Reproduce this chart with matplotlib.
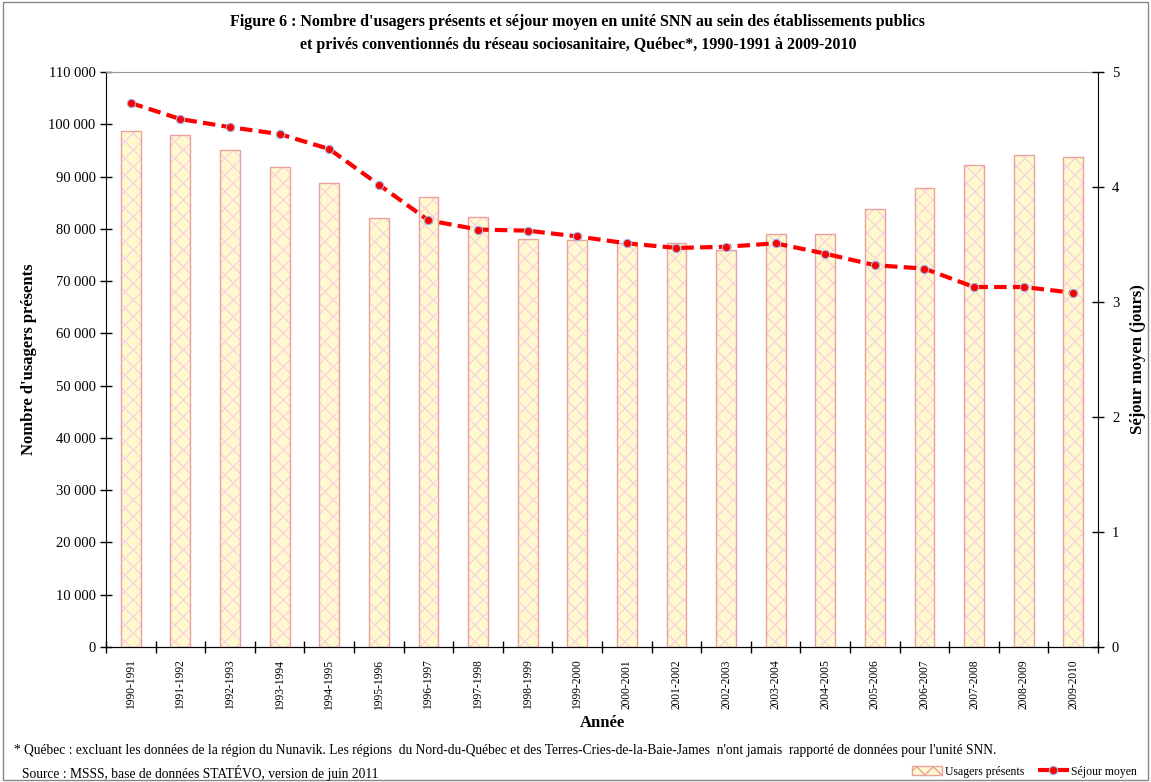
import matplotlib
matplotlib.use("Agg")
import matplotlib.pyplot as plt
import numpy as np
from matplotlib.patches import Rectangle, Patch
from matplotlib.lines import Line2D
from matplotlib.ticker import FuncFormatter

plt.rcParams["font.family"] = ["Liberation Serif", "DejaVu Serif"]

annees = [
    "1990-1991", "1991-1992", "1992-1993", "1993-1994", "1994-1995",
    "1995-1996", "1996-1997", "1997-1998", "1998-1999", "1999-2000",
    "2000-2001", "2001-2002", "2002-2003", "2003-2004", "2004-2005",
    "2005-2006", "2006-2007", "2007-2008", "2008-2009", "2009-2010",
]
usagers = [
    98700, 97900, 95100, 91800, 88800, 82100, 86000, 82300, 78100, 77900,
    77300, 77300, 76000, 79000, 79000, 83700, 87800, 92200, 94100, 93800,
]
sejour = [
    4.73, 4.59, 4.52, 4.46, 4.33, 4.02, 3.71, 3.63, 3.62, 3.57,
    3.51, 3.47, 3.48, 3.51, 3.42, 3.32, 3.29, 3.13, 3.13, 3.08,
]

fig = plt.figure(figsize=(11.51, 7.82), dpi=100)
ax = fig.add_axes([0.0921, 0.1726, 0.8619, 0.7354])
x = np.arange(len(annees))

# bars: hatched fill, then outline
ax.bar(x, usagers, width=0.4, color="#FFFACD", edgecolor="#FAD3DE",
       hatch="xx", linewidth=0, zorder=2)
ax.bar(x, usagers, width=0.4, color="none", edgecolor="#E8A0A0",
       linewidth=1.0, zorder=3)

ax.set_xlim(-0.5, len(annees) - 0.5)
ax.set_ylim(0, 110000)
ax.set_yticks(np.arange(0, 110001, 10000))
ax.yaxis.set_major_formatter(FuncFormatter(lambda v, p: f"{int(v):,}".replace(",", " ")))
ax.set_xticks(np.arange(-0.5, len(annees), 1.0))
ax.set_xticklabels([])
ax.set_xticks(x, minor=True)
ax.set_xticklabels(annees, minor=True, rotation=90, fontsize=8.3)
ax.tick_params(axis="x", which="minor", length=0, pad=9)
ax.tick_params(axis="both", which="major", direction="inout", length=8, width=1, labelsize=10.5)
ax.spines["top"].set_color("#999999")
ax.spines["right"].set_visible(False)

ax.set_ylabel("Nombre d'usagers présents", fontsize=12, fontweight="bold", labelpad=8)
ax.set_xlabel("Année", fontsize=12, fontweight="bold", labelpad=4)

ax2 = ax.twinx()
ax2.plot(x, sejour, color="#FF0000", linestyle=(0, (3, 1.5)), linewidth=3,
         marker="o", markersize=6, markerfacecolor="#FF0000",
         markeredgecolor="#99BBEE", markeredgewidth=0.8, zorder=4)
ax2.set_ylim(0, 5)
ax2.set_yticks(range(0, 6))
ax2.tick_params(axis="y", direction="inout", length=8, width=1, labelsize=10.5, pad=6)
ax2.spines["top"].set_visible(False)
ax2.spines["left"].set_visible(False)
ax2.set_ylabel("Séjour moyen (jours)", fontsize=12, fontweight="bold", labelpad=8)

fig.text(0.502, 0.972, "Figure 6 : Nombre d'usagers présents et séjour moyen en unité SNN au sein des établissements publics",
         ha="center", va="center", fontsize=11.5, fontweight="bold")
fig.text(0.502, 0.943, "et privés conventionnés du réseau sociosanitaire, Québec*, 1990-1991 à 2009-2010",
         ha="center", va="center", fontsize=11.5, fontweight="bold")

fig.text(0.012, 0.040, "* Québec : excluant les données de la région du Nunavik. Les régions  du Nord-du-Québec et des Terres-Cries-de-la-Baie-James  n'ont jamais  rapporté de données pour l'unité SNN.",
         ha="left", va="center", fontsize=9.75)
fig.text(0.019, 0.011, "Source : MSSS, base de données STATÉVO, version de juin 2011",
         ha="left", va="center", fontsize=9.75)

handles = [
    Patch(facecolor="#FFFACD", edgecolor="#E8A0A0", hatch="xx", linewidth=1),
    Line2D([0], [0], color="#FF0000", linestyle=(0, (3, 1.5)), linewidth=3,
           marker="o", markersize=6, markeredgecolor="#99BBEE", markeredgewidth=0.8),
]
fig.legend(handles, ["Usagers présents", "Séjour moyen"], loc="lower right",
           bbox_to_anchor=(0.997, -0.008), ncol=2, frameon=False, fontsize=8.5,
           handlelength=2.6, columnspacing=1.2, handletextpad=0.2)

fig.add_artist(Rectangle((0.003, 0.003), 0.994, 0.994, transform=fig.transFigure,
                         fill=False, edgecolor="#888888", linewidth=1))

fig.savefig("out.png", dpi=100)
